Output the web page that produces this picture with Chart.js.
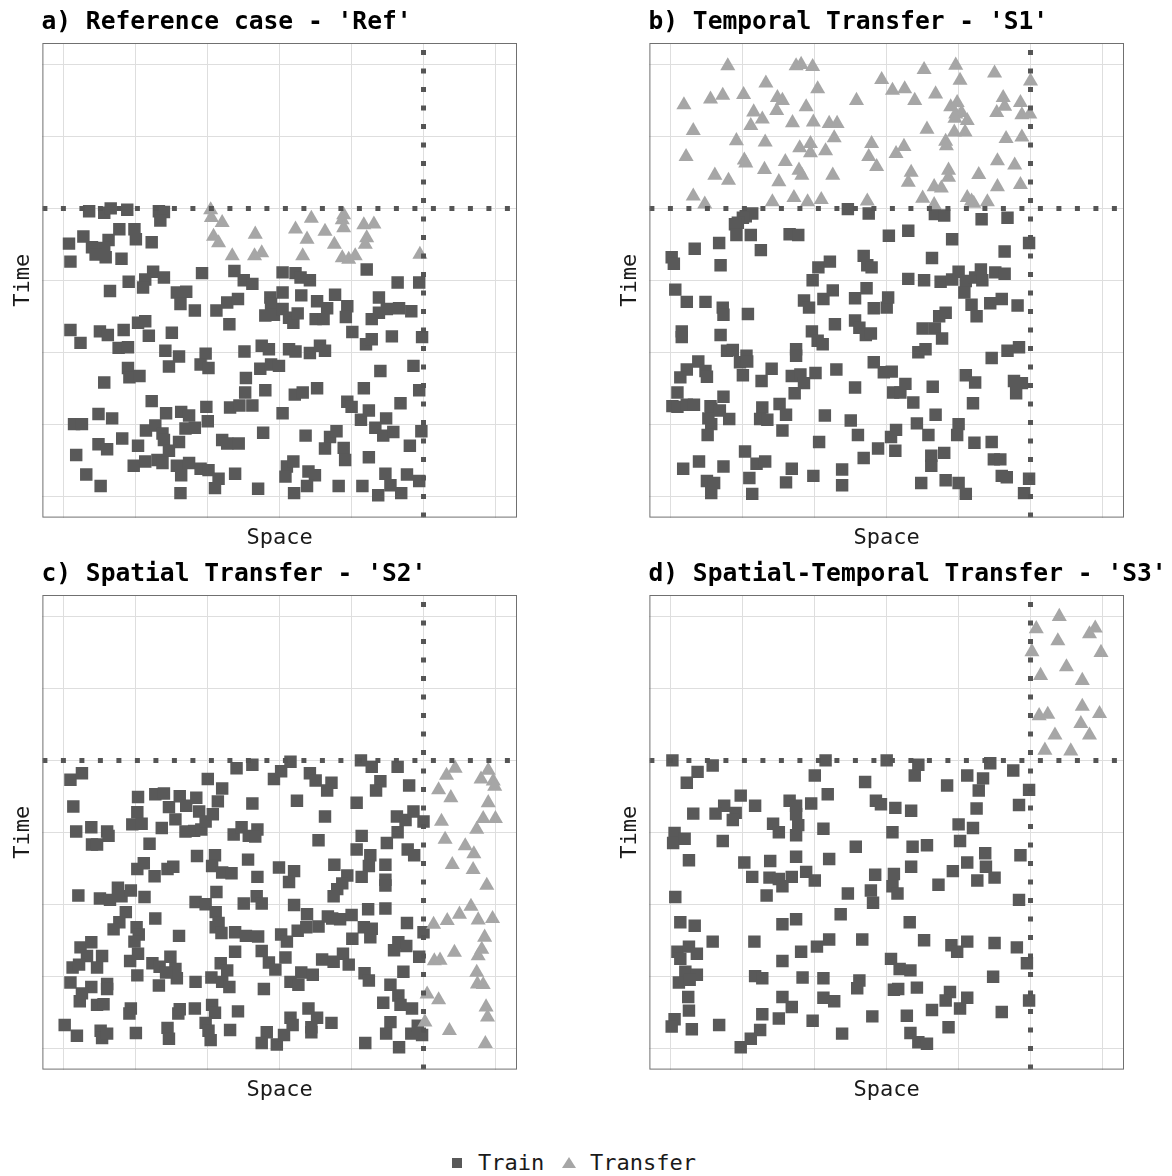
<!DOCTYPE html>
<html>
<head>
<meta charset="utf-8">
<script src="https://cdn.jsdelivr.net/npm/chart.js@4.4.1/dist/chart.umd.min.js"></script>
<style>
  body { margin: 0; background: #fff; width: 1172px; height: 1176px; position: relative; overflow: hidden; font-family: "DejaVu Sans Mono", monospace; }
  canvas { position: absolute; }
  .leg { position: absolute; font-size: 22px; line-height: 22px; color: #1a1a1a; }
  .sq { position: absolute; width: 10px; height: 10px; background: #595959; }
  .tri { position: absolute; width: 0; height: 0; border-left: 7px solid transparent; border-right: 7px solid transparent; border-bottom: 11px solid #a6a6a6; }
</style>
</head>
<body>
<canvas id="panelA" width="565" height="560" style="left:0;top:0"></canvas>
<canvas id="panelB" width="565" height="560" style="left:607px;top:0"></canvas>
<canvas id="panelC" width="565" height="560" style="left:0;top:552px"></canvas>
<canvas id="panelD" width="565" height="560" style="left:607px;top:552px"></canvas>

<div class="sq" style="left:452px;top:1158px"></div>
<div class="leg" style="left:478px;top:1152px">Train</div>
<div class="tri" style="left:562px;top:1157px"></div>
<div class="leg" style="left:590px;top:1152px">Transfer</div>

<script>
// split lines (space / time) and axis range
const spaceSplit = 5;
const timeSplit = 4;
const axisMin = -0.3;
const axisMax = 6.3;
const gridValues = [0, 1, 2, 3, 4, 5, 6];

// a) Reference case - [space, time]
const refTrain = [
  [0.35,3.96],[0.56,3.94],[0.65,4.00],[0.88,3.98],[1.32,3.96],[1.39,3.95],[1.34,3.83],[0.77,3.71],[0.98,3.71],[0.27,3.61],
  [0.07,3.51],[0.62,3.56],[1.00,3.57],[1.22,3.53],[0.39,3.46],[0.56,3.45],[0.44,3.36],[0.58,3.32],[0.80,3.30],[0.09,3.26],
  [1.24,3.12],[1.13,3.01],[1.39,3.04],[0.90,2.98],[1.10,2.90],[1.92,3.10],[2.37,3.13],[2.50,3.00],[2.62,2.95],[3.04,3.11],
  [3.22,3.10],[3.29,3.04],[3.42,3.00],[4.21,3.15],[4.64,2.97],[4.94,2.97],[0.64,2.85],[1.57,2.83],[1.70,2.84],[1.62,2.67],
  [1.82,2.58],[2.12,2.58],[2.27,2.69],[2.42,2.74],[2.87,2.76],[2.88,2.67],[3.04,2.83],[3.30,2.79],[3.52,2.71],[3.66,2.61],
  [3.77,2.80],[3.94,2.64],[3.92,2.49],[4.38,2.76],[2.80,2.51],[2.92,2.52],[3.04,2.60],[3.13,2.48],[3.19,2.41],[3.25,2.54],
  [3.50,2.46],[3.61,2.46],[4.28,2.46],[4.38,2.55],[4.49,2.60],[4.66,2.61],[4.83,2.57],[2.30,2.39],[0.09,2.31],[0.50,2.29],
  [0.61,2.24],[0.83,2.31],[1.03,2.41],[1.13,2.43],[1.18,2.23],[1.50,2.27],[0.23,2.13],[0.76,2.06],[0.89,2.07],[1.41,2.02],
  [1.60,1.94],[1.46,1.80],[1.97,1.98],[1.90,1.83],[2.01,1.78],[2.51,2.01],[2.75,2.09],[2.85,2.04],[3.13,2.04],[3.22,2.01],
  [3.42,1.99],[3.56,2.09],[3.63,2.02],[4.01,2.28],[4.20,2.11],[4.28,2.18],[4.56,2.22],[4.98,2.21],[0.89,1.78],[0.91,1.65],
  [1.05,1.67],[0.56,1.58],[2.53,1.64],[2.52,1.44],[2.73,1.77],[2.88,1.83],[2.99,1.81],[2.80,1.47],[3.21,1.41],[3.32,1.44],
  [3.52,1.50],[4.17,1.50],[4.40,1.74],[4.86,1.81],[4.94,1.47],[1.22,1.32],[1.42,1.15],[1.63,1.17],[1.74,1.12],[1.98,1.24],
  [2.00,1.04],[2.31,1.23],[2.44,1.26],[2.62,1.26],[3.04,1.15],[3.94,1.31],[4.00,1.24],[4.13,1.06],[4.24,1.19],[4.48,1.08],
  [4.68,1.29],[0.48,1.14],[0.67,1.08],[0.14,1.00],[0.25,1.00],[1.14,0.91],[1.27,0.98],[1.37,0.87],[1.39,0.78],[1.69,0.94],
  [1.82,0.95],[4.33,0.95],[4.44,0.84],[4.58,0.89],[4.97,0.90],[0.81,0.80],[0.48,0.72],[0.60,0.65],[0.17,0.57],[1.03,0.70],
  [1.60,0.75],[1.46,0.63],[2.20,0.78],[2.27,0.73],[2.43,0.73],[2.77,0.88],[3.36,0.84],[3.70,0.82],[3.79,0.90],[3.63,0.66],
  [3.89,0.67],[3.91,0.50],[4.24,0.54],[4.81,0.70],[0.97,0.42],[1.13,0.48],[1.30,0.50],[1.37,0.46],[1.57,0.42],[1.74,0.46],
  [1.63,0.29],[1.90,0.38],[2.01,0.36],[2.15,0.24],[2.10,0.11],[2.38,0.31],[2.70,0.10],[3.10,0.41],[3.19,0.48],[3.08,0.27],
  [3.40,0.34],[3.49,0.29],[3.38,0.14],[3.82,0.14],[4.15,0.14],[4.47,0.31],[4.54,0.15],[4.37,0.01],[4.69,0.04],[4.77,0.30],
  [4.94,0.21],[0.31,0.30],[0.51,0.14],[1.62,0.04],[3.20,0.04]
];
const refTransfer = [
  [2.04,3.98],[2.05,3.87],[2.20,3.80],[2.08,3.61],[2.15,3.52],[2.34,3.34],[2.66,3.64],[2.65,3.34],[2.75,3.38],[3.22,3.71],
  [3.44,3.86],[3.38,3.57],[3.32,3.34],[3.63,3.68],[3.89,3.91],[3.87,3.84],[3.89,3.73],[3.76,3.50],[3.87,3.31],[3.96,3.29],
  [4.05,3.34],[4.17,3.77],[4.31,3.78],[4.21,3.59],[4.19,3.50],[4.95,3.36]
];

// b) Temporal Transfer - 'S1'
const s1Train = [
  [2.46,3.99],[2.75,3.93],[1.13,3.93],[1.04,3.89],[1.00,3.87],[0.93,3.80],[0.89,3.78],[0.91,3.63],[1.11,3.63],[0.67,3.52],
  [0.33,3.44],[1.25,3.42],[1.65,3.64],[1.77,3.63],[3.03,3.62],[3.30,3.69],[3.67,3.92],[3.80,3.90],[3.91,3.57],[4.32,3.85],
  [4.68,3.87],[4.98,3.52],[4.64,3.40],[3.63,3.31],[0.01,3.32],[0.04,3.23],[0.69,3.21],[2.05,3.18],[2.21,3.26],[2.68,3.34],
  [2.73,3.21],[2.79,3.18],[1.97,3.00],[3.30,3.02],[3.52,3.00],[3.75,2.98],[3.91,3.01],[4.00,3.12],[4.10,2.99],[4.23,3.04],
  [4.31,3.15],[4.33,3.00],[4.51,3.11],[4.64,3.09],
  [0.06,2.87],[0.22,2.70],[0.48,2.70],[0.72,2.62],[0.73,2.52],[1.07,2.53],[0.15,2.29],[0.15,2.21],[0.69,2.24],[1.85,2.72],
  [1.92,2.62],[2.12,2.74],[2.25,2.86],[2.56,2.75],[2.72,2.89],[2.82,2.61],[3.00,2.62],[3.02,2.76],[2.28,2.39],[1.96,2.29],
  [2.04,2.16],[2.11,2.11],[2.56,2.44],[2.62,2.34],[2.71,2.24],[2.78,2.26],[3.50,2.33],[3.67,2.33],[3.77,2.19],[3.73,2.50],
  [3.82,2.55],[4.08,2.83],[4.18,2.66],[4.25,2.50],[4.44,2.68],[4.60,2.74],[4.82,2.65],[1.74,2.04],[1.74,1.95],[0.78,2.02],
  [0.86,2.03],[1.05,1.95],[0.96,1.86],[1.06,1.87],[3.44,2.00],[3.54,2.04],[4.46,1.92],[4.68,2.02],[4.84,2.07],[0.38,1.87],
  [0.22,1.76],[0.13,1.65],[0.48,1.74],[0.50,1.66],[0.09,1.44],[1.00,1.68],[1.26,1.60],[1.40,1.77],[1.68,1.67],[1.80,1.69],
  [1.85,1.57],[1.72,1.43],[2.01,1.71],[2.30,1.76],[2.56,1.51],[2.82,1.86],[2.96,1.72],[3.07,1.73],[3.09,1.44],[3.19,1.44],
  [3.26,1.56],[3.37,1.30],[3.64,1.52],[4.10,1.68],[4.23,1.58],[4.20,1.29],[4.77,1.60],[4.88,1.57],[4.80,1.43],[0.02,1.25],
  [0.09,1.24],[0.22,1.27],[0.32,1.27],[0.55,1.25],[0.56,1.21],[0.68,1.19],[0.73,1.38],[0.52,1.08],[0.56,1.00],[0.81,1.07],
  [1.27,1.23],[1.24,1.07],[1.34,1.06],[1.51,1.28],[1.60,1.13],[1.55,0.91],[2.14,1.12],[2.50,1.05],[2.60,0.85],[2.06,0.75],
  [3.06,0.82],[3.13,0.92],[3.42,1.01],[3.58,0.85],[3.68,1.13],[4.00,1.00],[3.98,0.85],[4.22,0.74],[4.46,0.75],[0.51,0.85],
  [1.03,0.62],[0.39,0.48],[0.17,0.38],[0.73,0.41],[1.19,0.45],[1.31,0.48],[1.68,0.38],[1.98,0.28],[2.38,0.37],[2.38,0.15],
  [2.68,0.53],[2.88,0.66],[3.12,0.63],[3.62,0.56],[3.62,0.42],[3.80,0.60],[4.49,0.51],[4.58,0.51],[4.60,0.28],[4.67,0.26],
  [4.98,0.24],[3.82,0.22],[3.48,0.18],[4.00,0.18],[4.10,0.03],[4.91,0.04],[0.50,0.21],[0.60,0.18],[0.56,0.04],[1.09,0.25],
  [1.13,0.03],[1.60,0.19]
];
const s1Transfer = [
  [0.79,5.98],[1.74,5.98],[1.81,6.00],[1.97,5.97],[1.32,5.74],[2.04,5.66],[0.55,5.52],[0.72,5.57],[1.01,5.58],[1.48,5.54],
  [1.55,5.50],[0.18,5.44],[1.15,5.34],[1.27,5.24],[1.47,5.36],[1.88,5.41],[1.11,5.15],[1.69,5.19],[1.98,5.20],[2.20,5.18],
  [2.31,5.18],[0.31,5.08],[0.91,4.94],[1.31,4.92],[2.27,4.98],[1.79,4.84],[1.94,4.90],[1.94,4.77],[2.15,4.80],[0.21,4.72],
  [1.02,4.67],[1.04,4.63],[1.59,4.65],[1.30,4.54],[0.61,4.46],[0.80,4.39],[1.78,4.53],[1.82,4.46],[1.50,4.37],[2.25,4.46],
  [0.31,4.17],[0.47,4.06],[1.41,4.09],[1.71,4.15],[1.90,4.09],[2.09,4.12],[2.58,5.50],[2.93,5.79],[3.08,5.64],[3.25,5.66],
  [3.39,5.50],[3.52,5.93],[3.68,5.59],[3.96,5.99],[4.02,5.78],[3.89,5.41],[3.96,5.31],[4.04,5.33],[3.98,5.47],[4.12,5.22],
  [3.95,5.25],[3.56,5.10],[3.94,5.06],[4.09,5.06],[3.82,4.93],[3.83,4.87],[2.79,4.90],[3.24,4.86],[3.13,4.76],[2.75,4.72],
  [2.86,4.58],[3.34,4.50],[3.30,4.36],[3.86,4.53],[3.86,4.43],[3.66,4.30],[3.76,4.28],[3.50,4.14],[3.66,4.05],[4.28,4.47],
  [4.12,4.15],[4.18,4.10],[4.21,4.07],[4.40,4.09],[4.54,4.30],[4.54,4.66],[4.78,4.60],[4.86,4.33],[4.50,5.88],[4.62,5.54],
  [4.64,5.42],[4.53,5.33],[4.86,5.47],[5.00,5.77],[4.88,5.30],[4.99,5.31],[4.66,4.97],[4.88,4.99],[2.73,4.10]
];

// c) Spatial Transfer - 'S2'
const s2Train = [
  [0.09,3.73],[0.25,3.82],[0.13,3.36],[0.17,3.01],[0.38,3.07],[0.60,3.01],[0.62,2.95],[0.39,2.83],[0.46,2.83],[1.03,3.49],
  [1.02,3.28],[1.27,3.53],[1.39,3.54],[1.46,3.35],[1.61,3.50],[1.70,3.37],[1.84,3.48],[1.88,3.29],[1.55,3.18],[1.36,3.06],
  [0.95,3.11],[1.08,3.12],[1.19,2.84],[1.69,3.01],[1.81,3.02],[1.91,3.04],[1.97,3.15],[2.07,3.25],[2.00,3.74],[2.20,3.61],
  [2.14,3.43],[2.40,3.89],[2.62,3.94],[2.62,3.40],[2.36,2.97],[2.47,3.07],[2.57,2.95],[2.69,3.04],[2.66,2.94],[2.92,3.74],
  [3.02,3.85],[3.15,3.98],[3.24,3.44],[3.42,3.82],[3.50,3.72],[3.66,3.58],[3.72,3.69],[3.63,3.22],[3.54,2.89],[4.13,4.00],
  [4.28,3.91],[4.07,3.41],[4.40,3.71],[4.34,3.58],[4.64,3.91],[4.80,3.65],[4.14,2.95],[4.07,2.76],[4.26,2.68],[4.24,2.53],
  [4.49,2.85],[4.47,2.55],[4.47,2.34],[4.47,2.26],[4.64,3.00],[4.63,3.22],[4.75,3.17],[4.86,3.29],[5.00,3.15],[4.78,2.76],
  [4.87,2.68],[1.85,2.67],[2.10,2.68],[2.06,2.53],[2.20,2.44],[2.33,2.43],[2.56,2.62],[2.69,2.38],[2.99,2.51],[3.20,2.46],
  [3.13,2.31],[3.76,2.55],[3.94,2.40],[3.87,2.29],[3.80,2.21],[3.75,2.11],[4.14,2.38],[1.02,2.49],[1.11,2.57],[1.26,2.39],
  [1.44,2.49],[1.52,2.52],[0.20,2.12],[0.50,2.08],[0.64,2.06],[0.75,2.23],[0.80,2.11],[0.93,2.19],[1.12,2.10],[2.12,2.17],
  [2.68,2.11],
  [1.83,2.03],[1.97,2.00],[2.11,1.89],[2.50,2.01],[2.75,2.01],[3.20,1.99],[4.23,1.93],[4.47,1.94],[0.86,1.89],[1.27,1.80],
  [0.77,1.75],[0.69,1.65],[1.01,1.68],[1.04,1.58],[0.98,1.48],[1.60,1.56],[2.15,1.74],[2.11,1.68],[2.19,1.60],[2.38,1.61],
  [2.53,1.56],[2.70,1.55],[3.02,1.58],[3.10,1.48],[3.25,1.63],[3.37,1.68],[3.38,1.86],[3.54,1.69],[3.67,1.83],[3.73,1.80],
  [3.84,1.79],[4.00,1.85],[4.17,1.68],[4.28,1.66],[4.26,1.54],[4.01,1.52],[4.77,1.74],[5.00,1.61],[4.65,1.47],[4.76,1.42],
  [4.59,1.36],[4.94,1.27],[0.23,1.40],[0.38,1.47],[0.32,1.28],[0.53,1.28],[0.46,1.12],[0.12,1.12],[0.21,1.16],[0.92,1.21],
  [1.03,1.31],[1.23,1.18],[1.33,1.13],[1.48,1.27],[1.55,1.10],[1.57,0.97],[1.42,1.05],[1.02,1.01],[1.83,0.92],[2.05,0.98],
  [2.20,0.92],[2.30,0.85],[2.18,1.18],[2.27,1.08],[2.38,1.34],[2.75,1.35],[2.85,1.19],[2.94,1.09],[3.08,1.26],[3.30,1.05],
  [3.46,1.02],[3.15,0.92],[3.26,0.88],[2.78,0.82],[3.59,1.23],[3.75,1.20],[3.88,1.31],[3.96,1.16],[4.18,1.04],[4.24,0.94],
  [4.72,1.06],[4.54,0.88],[4.65,0.73],[4.68,0.60],[4.44,0.63],[4.84,0.55],[0.09,0.91],[0.38,0.85],[0.25,0.76],[0.60,0.89],
  [0.60,0.82],[0.22,0.65],[0.46,0.60],[0.55,0.61],[0.93,0.55],[0.91,0.48],[1.59,0.48],[1.61,0.54],[1.82,0.55],[2.06,0.60],
  [2.10,0.49],[2.42,0.51],[1.32,0.87],[3.40,0.55],[3.52,0.42],[3.15,0.42],[3.18,0.32],[3.44,0.29],[3.44,0.22],[3.72,0.35],
  [0.01,0.32],[0.18,0.17],[0.51,0.24],[0.53,0.14],[0.60,0.20],[1.00,0.21],[1.44,0.28],[1.46,0.13],[1.97,0.35],[2.01,0.24],
  [2.04,0.11],[2.31,0.25],[2.82,0.22],[2.75,0.07],[2.96,0.05],[3.06,0.18],[4.19,0.07],[4.54,0.36],[4.48,0.20],[4.66,0.01],
  [4.83,0.20],[4.98,0.18],[4.92,0.31]
];
const s2Transfer = [
  [5.44,3.89],[5.32,3.79],[5.21,3.59],[5.38,3.48],[5.90,3.86],[5.80,3.74],[5.97,3.71],[5.99,3.64],[5.90,3.41],[5.25,3.15],
  [5.83,3.19],[6.00,3.19],[5.74,3.04],[5.30,2.90],[5.58,2.81],[5.70,2.70],[5.40,2.55],[5.69,2.48],[5.88,2.26],[5.66,1.97],
  [5.50,1.86],[5.33,1.77],[5.14,1.72],[5.76,1.78],[5.96,1.80],[5.85,1.54],[5.43,1.33],[5.81,1.37],[5.76,1.28],[5.15,1.21],
  [5.23,1.22],[5.74,1.05],[5.75,0.89],[5.83,0.88],[5.05,0.75],[5.21,0.67],[5.87,0.57],[5.89,0.43],[5.02,0.36],[5.36,0.24],
  [5.86,0.06]
];

// d) Spatial-Temporal Transfer - 'S3'
const s3Train = [
  [0.02,4.00],[0.58,3.93],[0.37,3.84],[0.22,3.69],[2.15,4.00],[2.00,3.79],[3.00,4.00],[3.44,3.94],[3.39,3.79],[2.70,3.70],
  [2.18,3.53],[0.97,3.51],[1.17,3.37],[0.74,3.37],[0.62,3.26],[0.31,3.26],[0.90,3.27],[0.86,3.17],[1.65,3.44],[1.74,3.37],
  [1.74,3.25],[1.95,3.40],[1.42,3.12],[1.50,3.00],[1.77,3.10],[1.74,2.96],[2.12,3.05],[2.85,3.44],[2.92,3.39],[3.12,3.34],
  [3.34,3.30],[3.84,3.65],[4.12,3.79],[4.34,3.75],[4.44,3.96],[4.76,3.86],[4.28,3.58],[4.98,3.59],[4.84,3.38],[4.25,3.33],
  [4.00,3.11],[4.20,3.06],[3.08,3.00],[0.05,2.99],[0.03,2.85],[0.19,2.91],[0.72,2.88],[0.25,2.61],[1.02,2.58],[1.13,2.38],
  [1.38,2.60],[1.74,2.66],[1.88,2.45],[2.00,2.33],[2.20,2.63],[2.57,2.80],[3.36,2.80],[3.56,2.82],[4.02,2.88],[4.37,2.71],
  [4.86,2.68],[4.12,2.58],[3.92,2.46],[4.38,2.52],[4.50,2.37],[4.26,2.33],[3.34,2.52],[2.84,2.41],[3.10,2.42],[3.08,2.25],
  [3.15,2.15],[2.78,2.19],[2.81,2.02],[2.46,2.15],[3.72,2.27],[0.06,2.10],[4.84,2.06],[1.37,2.37],[1.50,2.35],[1.68,2.38],
  [1.55,2.25],[1.33,2.12],[0.13,1.75],[0.33,1.70],[0.58,1.48],[1.16,1.48],[1.55,1.72],[1.74,1.79],[2.36,1.86],[3.32,1.75],
  [3.52,1.50],[2.66,1.51],[2.20,1.51],[2.03,1.41],[1.81,1.34],[1.55,1.21],[3.90,1.43],[3.98,1.34],[4.12,1.48],[4.50,1.46],
  [4.81,1.40],[4.95,1.18],[0.09,1.34],[0.25,1.41],[0.36,1.31],[0.13,1.24],[0.20,1.06],[0.36,1.02],[0.11,0.91],[0.26,0.95],
  [1.17,1.00],[1.27,0.97],[1.83,0.98],[2.12,0.97],[2.62,0.94],[2.59,0.83],[3.06,1.24],[3.18,1.10],[3.33,1.08],[3.10,0.81],
  [3.16,0.82],[3.42,0.84],[4.48,0.99],[0.24,0.71],[0.25,0.52],[0.05,0.40],[0.01,0.30],[0.29,0.26],[0.67,0.32],[1.27,0.47],
  [1.50,0.41],[1.55,0.71],[1.68,0.57],[2.12,0.70],[2.27,0.65],[1.97,0.38],[2.38,0.20],[1.24,0.25],[1.11,0.13],[0.97,0.01],
  [2.80,0.44],[3.28,0.45],[3.33,0.21],[3.44,0.08],[3.56,0.06],[3.63,0.53],[3.88,0.78],[3.82,0.66],[4.02,0.55],[4.12,0.70],
  [3.86,0.29],[4.60,0.50],[4.98,0.66]
];
const s3Transfer = [
  [5.40,6.00],[5.08,5.83],[5.90,5.84],[5.82,5.76],[5.38,5.66],[5.02,5.51],[5.98,5.50],[5.50,5.30],[5.14,5.18],[5.72,5.11],
  [5.72,4.75],[5.12,4.62],[5.24,4.64],[5.96,4.65],[5.70,4.51],[5.34,4.35],[5.82,4.35],[5.20,4.14],[5.56,4.13]
];

const trainColor = '#595959';
const transferColor = '#a6a6a6';
const splitColor = '#555555';
const fontFamily = '"DejaVu Sans Mono", monospace';

function toPoints(pairs) {
  return pairs.map(p => ({ x: p[0], y: p[1] }));
}

// panel border + panel title
const framePlugin = {
  id: 'frame',
  afterDraw(chart, args, opts) {
    const a = chart.chartArea;
    const ctx = chart.ctx;
    ctx.save();
    ctx.strokeStyle = '#707070';
    ctx.lineWidth = 1;
    ctx.strokeRect(a.left + 0.5, a.top + 0.5, a.right - a.left - 1, a.bottom - a.top - 1);
    ctx.fillStyle = '#000000';
    ctx.font = 'bold 24.6px ' + fontFamily;
    ctx.textBaseline = 'alphabetic';
    ctx.textAlign = 'left';
    ctx.fillText(opts.text, a.left - 1, a.top - 14);
    ctx.restore();
  }
};

function axis(label, pad) {
  return {
    type: 'linear',
    min: axisMin,
    max: axisMax,
    afterBuildTicks: scale => { scale.ticks = gridValues.map(v => ({ value: v })); },
    ticks: { display: false },
    grid: { color: '#dedede', lineWidth: 1, drawTicks: false },
    border: { display: false },
    title: {
      display: true,
      text: label,
      color: '#1a1a1a',
      font: { family: fontFamily, size: 22 },
      padding: pad
    }
  };
}

function makePanel(id, title, train, transfer) {
  const ctx = document.getElementById(id).getContext('2d');
  return new Chart(ctx, {
    type: 'scatter',
    data: {
      datasets: [
        {
          label: 'split-space',
          data: [{ x: spaceSplit, y: axisMin }, { x: spaceSplit, y: axisMax }],
          showLine: true,
          borderColor: splitColor,
          borderWidth: 5,
          borderDash: [5, 13.5],
          borderCapStyle: 'butt',
          pointRadius: 0,
          order: 0
        },
        {
          label: 'split-time',
          data: [{ x: axisMin, y: timeSplit }, { x: axisMax, y: timeSplit }],
          showLine: true,
          borderColor: splitColor,
          borderWidth: 5,
          borderDash: [5, 13.5],
          borderCapStyle: 'butt',
          pointRadius: 0,
          order: 0
        },
        {
          label: 'Train',
          data: toPoints(train),
          pointStyle: 'rect',
          pointRadius: 8.8,
          backgroundColor: trainColor,
          borderWidth: 0,
          order: 2
        },
        {
          label: 'Transfer',
          data: toPoints(transfer),
          pointStyle: 'triangle',
          pointRadius: 8.7,
          backgroundColor: transferColor,
          borderWidth: 0,
          order: 1
        }
      ]
    },
    options: {
      responsive: false,
      animation: false,
      events: [],
      layout: { padding: { left: 8, right: 48, top: 43, bottom: 8 } },
      plugins: {
        legend: { display: false },
        tooltip: { enabled: false },
        frame: { text: title }
      },
      scales: {
        x: axis('Space', { top: 7, bottom: 1 }),
        y: axis('Time', { top: 2, bottom: 6 })
      }
    },
    plugins: [framePlugin]
  });
}

makePanel('panelA', "a) Reference case - 'Ref'", refTrain, refTransfer);
makePanel('panelB', "b) Temporal Transfer - 'S1'", s1Train, s1Transfer);
makePanel('panelC', "c) Spatial Transfer - 'S2'", s2Train, s2Transfer);
makePanel('panelD', "d) Spatial-Temporal Transfer - 'S3'", s3Train, s3Transfer);
</script>
</body>
</html>
